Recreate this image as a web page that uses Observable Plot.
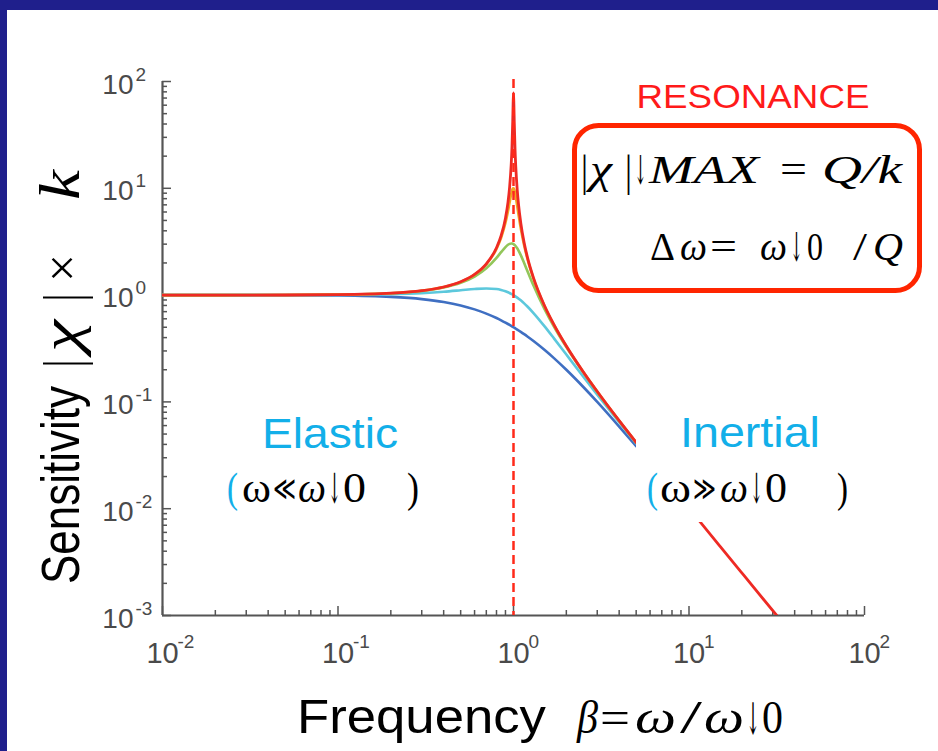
<!DOCTYPE html>
<html><head><meta charset="utf-8">
<script src="https://cdn.jsdelivr.net/npm/d3@7"></script>
<script src="https://cdn.jsdelivr.net/npm/@observablehq/plot@0.6"></script>
<style>
html,body{margin:0;padding:0;background:#fff;width:938px;height:751px;overflow:hidden;}
#wrap{position:relative;width:938px;height:751px;overflow:hidden;background:#fff;}
#wrap svg{position:absolute;left:0;top:0;}
.bar{position:absolute;background:#1f1f8c;}
</style></head><body>
<div id="wrap"></div>
<script>
// ---------- data ----------
const betas = [0.01, 0.02, 0.05, 0.1, 0.2, 0.3, 0.4, 0.5, 0.6, 0.7, 0.8, 0.85, 0.9, 0.93, 0.95, 0.97, 0.98, 0.99, 0.995, 1, 1.005, 1.01, 1.02, 1.03, 1.05, 1.07, 1.1, 1.15, 1.2, 1.3, 1.5, 1.7, 2, 2.5, 3, 4, 5];
const blueVals   = [0.9999, 0.9996, 0.9975, 0.9901, 0.9615, 0.9174, 0.8621, 0.8, 0.7353, 0.6711, 0.6098, 0.5806, 0.5525, 0.5362, 0.5256, 0.5152, 0.5101, 0.5050, 0.5025, 0.5, 0.4975, 0.4950, 0.4901, 0.4852, 0.4756, 0.4662, 0.4525, 0.4306, 0.4098, 0.3717, 0.3077, 0.2571, 0.2, 0.1379, 0.1, 0.0588, 0.0385];
const cyanVals   = [1.0000, 1.0002, 1.0013, 1.0050, 1.0198, 1.0437, 1.0748, 1.1094, 1.1399, 1.1546, 1.1399, 1.1184, 1.0872, 1.0641, 1.0471, 1.0290, 1.0196, 1.0099, 1.0050, 1, 0.9950, 0.9899, 0.9796, 0.9692, 0.9479, 0.9261, 0.8930, 0.8373, 0.7824, 0.6795, 0.5121, 0.3934, 0.2774, 0.1720, 0.1170, 0.0644, 0.0408];
const greenVals  = [1.0001, 1.0004, 1.0024, 1.0095, 1.0392, 1.0923, 1.1758, 1.3016, 1.4914, 1.7830, 2.2321, 2.5215, 2.8161, 2.9572, 3.0181, 3.0424, 3.0390, 3.0248, 3.0137, 3, 2.9837, 2.9650, 2.9206, 2.8679, 2.7420, 2.5976, 2.3666, 1.9962, 1.6817, 1.2273, 0.7428, 0.5068, 0.3254, 0.1881, 0.1240, 0.0664, 0.0416];
const orangeVals = [1.0001, 1.0004, 1.0025, 1.0101, 1.0414, 1.0983, 1.1891, 1.3304, 1.5557, 1.9426, 2.7116, 3.4456, 4.7565, 6.0970, 7.3460, 8.8038, 9.4609, 9.9030, 10.0001, 10, 9.9011, 9.7105, 9.1150, 8.3572, 6.8150, 5.5517, 4.2183, 2.9207, 2.1927, 1.4242, 0.7943, 0.5270, 0.3326, 0.1903, 0.1249, 0.0666, 0.0417];
const redVals    = [1.0001, 1.0004, 1.0025, 1.0101, 1.0417, 1.0989, 1.1905, 1.3333, 1.5625, 1.9605, 2.7767, 3.6008, 5.2535, 7.3733, 10.178, 16.557, 24.070, 42.371, 61.76, 78, 61.26, 41.82, 23.55, 16.05, 9.673, 6.871, 4.751, 3.098, 2.271, 1.449, 0.7999, 0.5291, 0.3333, 0.1905, 0.1250, 0.0667, 0.0417];
const redTailBetas = [7, 10, 15, 20, 31.62, 40];
const redTailVals  = [0.02083, 0.01010, 0.004464, 0.002506, 0.001001, 0.000626];

const xMajor = [0.01, 0.1, 1, 10, 100];
const xExponents = ["-2", "-1", "0", "1", "2"];
const yMajor = [0.001, 0.01, 0.1, 1, 10, 100];
const yExponents = ["-3", "-2", "-1", "0", "1", "2"];
const minorMultipliers = [2, 3, 4, 5, 6, 7, 8, 9];

// ---------- styles ----------
const AXIS = "#555555";
const LABEL = "#4a4a4a";
const SANS = "Liberation Sans, Arial, Helvetica, sans-serif";
const SERIF = "Liberation Serif, Times New Roman, DejaVu Serif, serif";
const SYM = "DejaVu Serif, DejaVu Sans, serif";
const colors = {blue: "#3f6fc2", cyan: "#5cc8dc", green: "#92c65a", orange: "#f2a623", red: "#ee2a24"};
const W = 938, H = 751, ML = 162, MR = 74, MT = 81, MB = 136;
const innerW = W - ML - MR, innerH = H - MT - MB;

const rows = (vals, bs = betas) => bs.map((b, i) => ({beta: b, value: vals[i]}));
const redRows = rows(redVals).concat(rows(redTailVals, redTailBetas));
const xMinor = xMajor.slice(0, -1).flatMap(d => minorMultipliers.map(m => d * m));
const yMinor = yMajor.slice(0, -1).flatMap(d => minorMultipliers.map(m => d * m));

const lineOpts = (c, w = 2.6) => ({x: "beta", y: "value", stroke: c, strokeWidth: w, curve: "monotone-x", clip: true, strokeLinejoin: "round"});

const chart = Plot.plot({
  width: W, height: H,
  marginLeft: ML, marginRight: MR, marginTop: MT, marginBottom: MB,
  style: {fontFamily: SANS, background: "transparent"},
  x: {type: "log", domain: [0.01, 100], axis: null},
  y: {type: "log", domain: [0.001, 100], axis: null},
  marks: [
    Plot.tickX(xMinor, {x: d => d, stroke: AXIS, strokeWidth: 1.5, insetTop: innerH - 5}),
    Plot.tickX(xMajor, {x: d => d, stroke: AXIS, strokeWidth: 1.5, insetTop: innerH - 9}),
    Plot.tickY(yMinor, {y: d => d, stroke: AXIS, strokeWidth: 1.5, insetRight: innerW - 5}),
    Plot.tickY(yMajor, {y: d => d, stroke: AXIS, strokeWidth: 1.5, insetRight: innerW - 9}),
    Plot.ruleY([0.001], {stroke: AXIS, strokeWidth: 2.2}),
    Plot.ruleX([0.01], {stroke: AXIS, strokeWidth: 2.2}),
    // tick labels
    Plot.text(xMajor, {x: d => d, frameAnchor: "bottom", text: () => "10", dy: 47, lineAnchor: "bottom", fontSize: 29, fill: LABEL}),
    Plot.text(xMajor, {x: d => d, frameAnchor: "bottom", text: (d, i) => xExponents[i], dx: 15, dy: 32, textAnchor: "start", lineAnchor: "bottom", fontSize: 19, fill: LABEL}),
    Plot.text(yMajor, {y: d => d, frameAnchor: "left", text: () => "10", dx: -29, dy: 12, textAnchor: "end", lineAnchor: "bottom", fontSize: 28, fill: LABEL}),
    Plot.text(yMajor, {y: d => d, frameAnchor: "left", text: (d, i) => yExponents[i], dx: -27, dy: -1, textAnchor: "start", lineAnchor: "bottom", fontSize: 19, fill: LABEL}),
    // curves
    Plot.line(rows(blueVals), lineOpts(colors.blue)),
    Plot.line(rows(cyanVals), lineOpts(colors.cyan)),
    Plot.line(rows(greenVals), lineOpts(colors.green)),
    Plot.line(rows(orangeVals), lineOpts(colors.orange)),
    Plot.line(redRows, lineOpts(colors.red, 2.8)),
    Plot.ruleX([1], {stroke: "#ff2a1a", strokeWidth: 2.5, strokeDasharray: "9,5", insetTop: -2})
  ]
});

const wrap = document.getElementById("wrap");
wrap.appendChild(chart);

// ---------- annotations ----------
const g = d3.select(chart).append("g");
// each piece is placed with a transform; "len" squeezes/stretches it horizontally to a measured width
function t(x, y, str, o = {}) {
  const el = g.append("text").attr("x", 0).attr("y", 0).text(str)
    .attr("font-family", o.family || SANS)
    .attr("font-size", o.size || 30)
    .attr("fill", o.fill || "#000")
    .attr("font-style", o.italic ? "italic" : "normal")
    .attr("text-anchor", o.anchor || "start");
  let sx = 1;
  if (o.len) {
    const nat = el.node().getComputedTextLength();
    if (nat > 0) sx = o.len / nat;
  }
  let tr = `translate(${x},${y})`;
  if (o.rotate) tr += " rotate(-90)";
  if (sx !== 1) tr += ` scale(${sx.toFixed(4)},1)`;
  el.attr("transform", tr);
  return el;
}
const CYANTXT = "#12afe9";

// white backing for the "Inertial" label (hides the lines under it)
g.append("rect").attr("x", 636).attr("y", 405).attr("width", 226).attr("height", 117).attr("fill", "#fff");

// resonance box
g.append("rect").attr("x", 574.5).attr("y", 125.5).attr("width", 345).attr("height", 165)
  .attr("rx", 24).attr("ry", 24).attr("fill", "#fff").attr("stroke", "#ff2500").attr("stroke-width", 5);
t(753, 108, "RESONANCE", {size: 33, fill: "#ff1a1a", anchor: "middle", len: 233});

// |χ|↓MAX = Q/k
t(581, 186, "|", {family: SERIF, size: 44, len: 7});
t(590, 183, "χ", {family: SERIF, size: 40, italic: true, len: 22});
t(625, 186, "|", {family: SERIF, size: 44, len: 7});
t(634, 184, "↓", {family: SYM, size: 40, len: 13});
t(649, 183, "MAX", {family: SERIF, size: 40, italic: true, len: 110});
t(780, 183, "=", {family: SERIF, size: 40, len: 27});
t(822, 183, "Q/k", {family: SERIF, size: 40, italic: true, len: 80});
// Δω = ω↓0 / Q
t(650, 260, "Δ", {family: SERIF, size: 40, len: 25});
t(680, 260, "ω", {family: SERIF, size: 40, italic: true, len: 27});
t(710, 260, "=", {family: SERIF, size: 40, len: 27});
t(760, 260, "ω", {family: SERIF, size: 40, italic: true, len: 27});
t(790, 261, "↓", {family: SYM, size: 40, len: 13});
t(807, 260, "0", {family: SERIF, size: 40, len: 16});
t(853, 260, "/", {family: SERIF, size: 40, len: 14});
t(873, 260, "Q", {family: SERIF, size: 40, italic: true, len: 30});

// Elastic
t(262, 448, "Elastic", {size: 43, fill: CYANTXT, len: 136});
t(227, 502, "(", {family: SERIF, size: 42, fill: CYANTXT, len: 11});
t(242, 502, "ω", {family: SERIF, size: 42, len: 29});
t(273, 500, "≪", {family: SYM, size: 34, len: 23});
t(298, 502, "ω", {family: SERIF, size: 42, italic: true, len: 28});
t(328, 503, "↓", {family: SYM, size: 42, len: 13});
t(343, 502, "0", {family: SERIF, size: 42, len: 23});
t(407, 502, ")", {family: SERIF, size: 42, len: 12});

// Inertial
t(680, 447, "Inertial", {size: 43, fill: CYANTXT, len: 140});
t(647, 502, "(", {family: SERIF, size: 42, fill: CYANTXT, len: 11});
t(660, 502, "ω", {family: SERIF, size: 42, len: 31});
t(693, 500, "≫", {family: SYM, size: 34, len: 23});
t(720, 502, "ω", {family: SERIF, size: 42, italic: true, len: 28});
t(750, 503, "↓", {family: SYM, size: 42, len: 13});
t(765, 502, "0", {family: SERIF, size: 42, len: 22});
t(837, 502, ")", {family: SERIF, size: 42, len: 11});

// x label
t(297, 733, "Frequency", {size: 49, len: 249});
t(577, 733, "β", {family: SERIF, size: 46, italic: true, len: 21});
t(600, 733, "=", {family: SERIF, size: 46, len: 30});
t(635, 733, "ω", {family: SERIF, size: 46, italic: true, len: 41});
t(680, 733, "/", {family: SERIF, size: 46, len: 22});
t(704, 733, "ω", {family: SERIF, size: 46, italic: true, len: 40});
t(746, 734, "↓", {family: SYM, size: 44, len: 14});
t(762, 733, "0", {family: SERIF, size: 46, len: 21});

// y label (rotated)
t(79, 584, "Sensitivity", {size: 54, len: 198, rotate: true});
t(81, 368, "|", {family: SERIF, size: 54, len: 9, rotate: true});
t(79, 352, "χ", {family: SERIF, size: 54, italic: true, len: 32, rotate: true});
t(81, 302, "|", {family: SERIF, size: 54, len: 9, rotate: true});
t(79, 282, "×", {family: SERIF, size: 50, len: 28, rotate: true});
t(79, 200, "k", {family: SERIF, size: 56, italic: true, len: 30, rotate: true});

// slide frame bars
const barTop = document.createElement("div"); barTop.className = "bar";
Object.assign(barTop.style, {left: "0px", top: "0px", width: W + "px", height: "10px"});
const barLeft = document.createElement("div"); barLeft.className = "bar";
Object.assign(barLeft.style, {left: "0px", top: "0px", width: "7px", height: H + "px"});
wrap.appendChild(barTop); wrap.appendChild(barLeft);
</script></body></html>
